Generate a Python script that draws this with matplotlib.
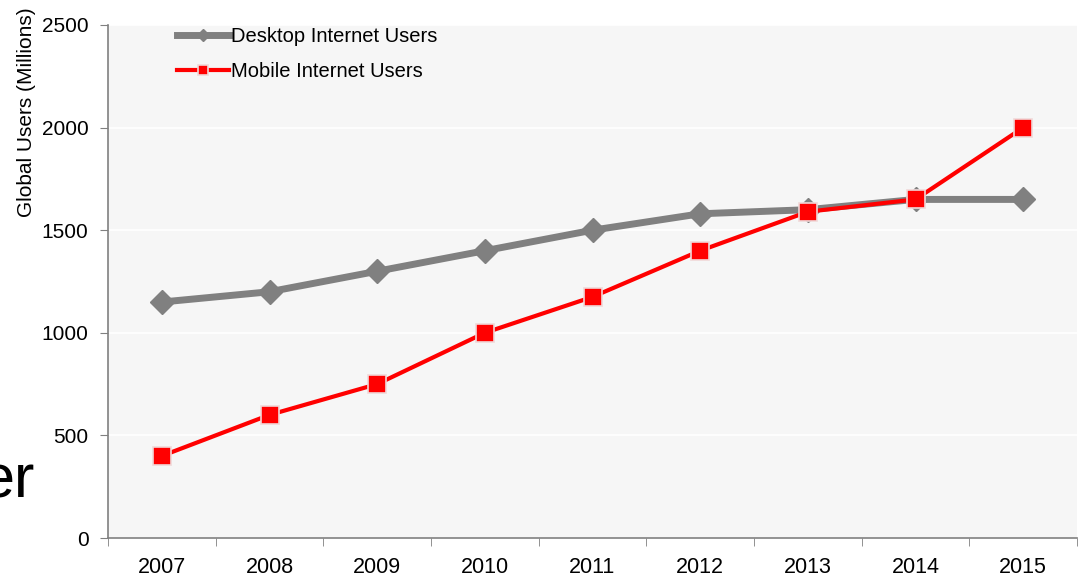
import matplotlib
matplotlib.use("Agg")
import matplotlib.pyplot as plt
import numpy as np

years = ["2007", "2008", "2009", "2010", "2011", "2012", "2013", "2014", "2015"]
desktop = [1150, 1200, 1300, 1400, 1500, 1580, 1600, 1650, 1650]
mobile = [400, 600, 750, 1000, 1175, 1400, 1590, 1650, 2000]
yticks = [0, 500, 1000, 1500, 2000, 2500]

plt.rcParams['font.family'] = ['Liberation Sans', 'DejaVu Sans']

fig = plt.figure(figsize=(10.87, 5.82), dpi=100)
fig.patch.set_facecolor('white')
ax = fig.add_axes([108/1087, 1-538/582, (1077-108)/1087, (538-25)/582])
ax.set_facecolor('#f6f6f6')

x = np.arange(len(years))
ax.plot(x, desktop, color='#808080', lw=5, marker='D', markersize=12,
        markerfacecolor='#808080', markeredgecolor='#808080', label='Desktop Internet Users', zorder=3)
ax.plot(x, mobile, color='#ff0000', lw=3, marker='s', markersize=12.5,
        markerfacecolor='#ff0000', markeredgecolor='#f0d8d8', markeredgewidth=1.2,
        label='Mobile Internet Users', zorder=4)

ax.set_xlim(-0.5, len(years) - 0.5)
ax.set_ylim(0, 2500)
ax.set_yticks(yticks)
ax.set_yticklabels([str(v) for v in yticks], fontsize=15)
ax.set_xticks(x)
ax.set_xticklabels(years, fontsize=15.5)
ax.set_xticks(np.arange(-0.5, len(years)), minor=True)
ax.tick_params(axis='x', which='major', length=0, pad=14)
ax.tick_params(axis='x', which='minor', length=6, color='#808080')
ax.tick_params(axis='y', length=6, color='#808080', pad=8)
ax.yaxis.grid(True, color='white', lw=1.2)
ax.set_axisbelow(True)
for s in ['top', 'right']:
    ax.spines[s].set_visible(False)
for s in ['left', 'bottom']:
    ax.spines[s].set_color('#808080')
    ax.spines[s].set_linewidth(1.2)
ax.set_ylabel('Global Users (Millions)', fontsize=15)
ax.yaxis.set_label_coords(-0.074, 0.83)

leg = ax.legend(loc='upper left', bbox_to_anchor=(0.052, 1.032), frameon=False,
                fontsize=14.5, handlelength=2.6, labelspacing=0.8, handletextpad=0.1,
                markerscale=0.55)

fig.text(35/1087, 1-498/582, 'er', fontsize=44, ha='right', va='baseline', color='black')

fig.savefig('out.png', dpi=100, facecolor=fig.get_facecolor())
